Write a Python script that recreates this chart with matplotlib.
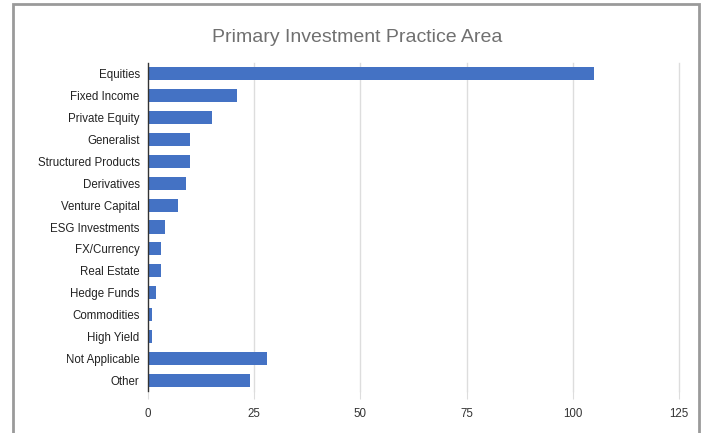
import matplotlib
matplotlib.use("Agg")
import matplotlib.pyplot as plt
from matplotlib.patches import Rectangle

categories = ["Equities", "Fixed Income", "Private Equity", "Generalist",
              "Structured Products", "Derivatives", "Venture Capital",
              "ESG Investments", "FX/Currency", "Real Estate", "Hedge Funds",
              "Commodities", "High Yield", "Not Applicable", "Other"]
values = [105, 21, 15, 10, 10, 9, 7, 4, 3, 3, 2, 1, 1, 28, 24]
xticks = [0, 25, 50, 75, 100, 125]

W, H = 705, 433
fig = plt.figure(figsize=(W / 100, H / 100), dpi=100)
plt.rcParams['font.family'] = ['Liberation Sans', 'DejaVu Sans']

# outer border
fig.patches.append(Rectangle((13 / W, -0.05), (699 - 13) / W, 1.05 - 4 / H,
                             transform=fig.transFigure, fill=False,
                             edgecolor='#9a9a9a', linewidth=2))

left, right = 148, 679
top, bottom = 63, 391
ax = fig.add_axes([left / W, 1 - bottom / H, (right - left) / W, (bottom - top) / H])

y = list(range(len(categories)))
ax.barh(y, values, height=0.6, color='#4472C4')
ax.set_ylim(len(categories) - 0.5, -0.5)
ax.set_xlim(0, 125)
ax.set_yticks(y)
ax.set_yticklabels(categories, fontsize=8.3, color='#222222')
ax.set_xticks(xticks)
ax.set_xticklabels([str(t) for t in xticks], fontsize=8.3, color='#333333')
ax.tick_params(axis='y', length=0, pad=6)
ax.tick_params(axis='x', length=6, color='#dddddd', pad=6)
for t in xticks[1:]:
    ax.axvline(t, color='#dddddd', linewidth=1, zorder=0, clip_on=False)
for s in ['top', 'right', 'bottom']:
    ax.spines[s].set_visible(False)
ax.spines['left'].set_color('#333333')
ax.spines['left'].set_linewidth(1)

fig.text(357 / W, 1 - 37 / H, "Primary Investment Practice Area",
         ha='center', va='center', fontsize=14, color='#707070')

fig.savefig("out.png", dpi=100)
